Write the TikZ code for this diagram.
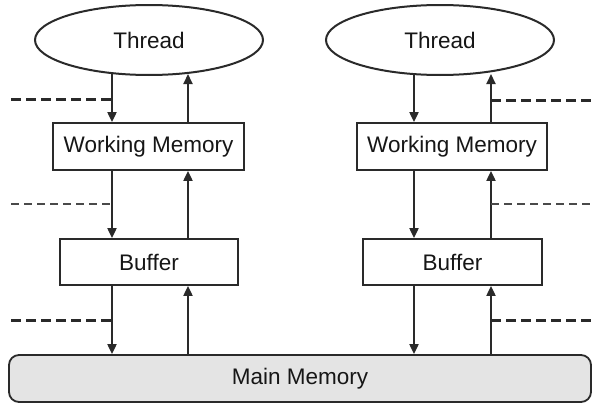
\documentclass[tikz,border=0pt]{standalone}
\usepackage{fontspec}
\setmainfont{Liberation Sans}
\usetikzlibrary{shapes.geometric,arrows.meta}
\definecolor{ln}{HTML}{2A2A2A}
\definecolor{tx}{HTML}{161616}
\definecolor{mm}{HTML}{E4E4E4}
\pgfdeclarelayer{bg}
\pgfsetlayers{bg,main}
\tikzset{
  lbl/.style={text=tx,font=\fontsize{22.5}{26}\selectfont},
  thr/.style={ellipse,draw=ln,line width=2pt,fill=white,minimum width=228pt,minimum height=70pt,inner sep=0pt,lbl},
  boxn/.style={rectangle,draw=ln,line width=1.8pt,fill=white,inner sep=0pt,lbl},
  mainbox/.style={rectangle,rounded corners=10pt,draw=ln,line width=1.8pt,fill=mm,inner sep=0pt,lbl},
  arr/.style={draw=ln,line width=2pt,-{Triangle[length=10pt,width=9pt]}},
  dthick/.style={draw=ln,line width=3pt,dash pattern=on 10pt off 5pt},
  dthin/.style={draw=ln!85,line width=1.6pt,dash pattern=on 8pt off 5pt}
}
\begin{document}
\begin{tikzpicture}[x=1pt,y=-1pt]
\useasboundingbox (0,0) rectangle (595,407);
% nodes
\node[thr] (tl) at (149,40) {Thread};
\node[thr] (tr) at (440,40) {Thread};
\node[boxn,minimum width=191pt,minimum height=47pt] (wl) at (148.5,146.5) {Working Memory};
\node[boxn,minimum width=190pt,minimum height=47pt] (wr) at (452,146.5) {Working Memory};
\node[boxn,minimum width=178pt,minimum height=46pt] (bl) at (149,262) {Buffer};
\node[boxn,minimum width=179pt,minimum height=46pt] (br) at (452.5,262) {Buffer};
\node[mainbox,minimum width=582pt,minimum height=47pt] (mm) at (300,378.5) {Main Memory};
% column x positions
\coordinate (dL) at (112,0);
\coordinate (uL) at (188,0);
\coordinate (dR) at (414,0);
\coordinate (uR) at (491,0);
% arrows
\begin{pgfonlayer}{bg}
\draw[arr] (tl.center -| dL) -- (wl.north -| dL);
\draw[arr] (wl.north -| uL) -- ([yshift=2pt]tl.south -| uL);
\draw[arr] (tr.center -| dR) -- (wr.north -| dR);
\draw[arr] (wr.north -| uR) -- ([yshift=2pt]tr.south -| uR);
\end{pgfonlayer}
\draw[arr] (wl.south -| dL) -- (bl.north -| dL);
\draw[arr] (bl.north -| uL) -- (wl.south -| uL);
\draw[arr] (wr.south -| dR) -- (br.north -| dR);
\draw[arr] (br.north -| uR) -- (wr.south -| uR);
\draw[arr] (bl.south -| dL) -- (mm.north -| dL);
\draw[arr] (mm.north -| uL) -- (bl.south -| uL);
\draw[arr] (br.south -| dR) -- (mm.north -| dR);
\draw[arr] (mm.north -| uR) -- (br.south -| uR);
% dashed lines
\coordinate (la) at (11,99);
\coordinate (lb) at (11,204);
\coordinate (lc) at (11,320);
\coordinate (ra) at (591,100);
\coordinate (rb) at (591,204);
\coordinate (rc) at (591,320);
\draw[dthick] (la) -- (la -| dL);
\draw[dthin] (lb) -- (lb -| dL);
\draw[dthick] (lc) -- (lc -| dL);
\draw[dthick] (ra -| uR) -- (ra);
\draw[dthin] (rb -| uR) -- (rb);
\draw[dthick] (rc -| uR) -- (rc);
\end{tikzpicture}
\end{document}
